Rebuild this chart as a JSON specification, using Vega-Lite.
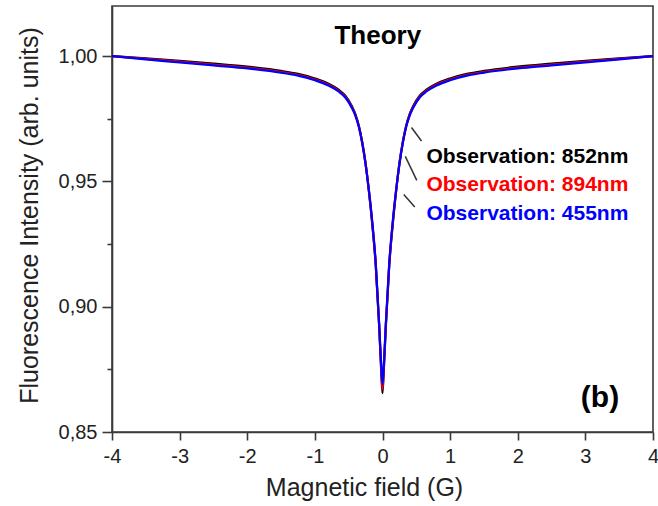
{
  "$schema": "https://vega.github.io/schema/vega-lite/v6.json",
  "width": 541,
  "height": 426,
  "autosize": "none",
  "padding": {"left": 112, "top": 6, "right": 5, "bottom": 74},
  "background": "white",
  "config": {
    "view": {"stroke": "#3a3a3a", "strokeWidth": 1.6},
    "font": "Liberation Sans"
  },
  "datasets": {
    "curve": [
      {"x": -4, "k": 1.0, "r": 1.0, "b": 1.0},
      {"x": -3.5, "k": 0.9991, "r": 0.9989, "b": 0.9987},
      {"x": -3, "k": 0.9981, "r": 0.9978, "b": 0.9975},
      {"x": -2.5, "k": 0.997, "r": 0.9966, "b": 0.9963},
      {"x": -2, "k": 0.9958, "r": 0.9954, "b": 0.9951},
      {"x": -1.5, "k": 0.9941, "r": 0.9937, "b": 0.9934},
      {"x": -1.25, "k": 0.9929, "r": 0.9925, "b": 0.9922},
      {"x": -1, "k": 0.9911, "r": 0.9907, "b": 0.9904},
      {"x": -0.8, "k": 0.989, "r": 0.9886, "b": 0.9883},
      {"x": -0.65, "k": 0.9866, "r": 0.9862, "b": 0.9859},
      {"x": -0.55, "k": 0.9842, "r": 0.9838, "b": 0.9835},
      {"x": -0.45, "k": 0.9799, "r": 0.9795, "b": 0.9792},
      {"x": -0.4, "k": 0.9768, "r": 0.9765, "b": 0.9762},
      {"x": -0.35, "k": 0.9722, "r": 0.972, "b": 0.9718},
      {"x": -0.3, "k": 0.9657, "r": 0.9655, "b": 0.9653},
      {"x": -0.25, "k": 0.9572, "r": 0.957, "b": 0.9568},
      {"x": -0.2, "k": 0.9458, "r": 0.946, "b": 0.9462},
      {"x": -0.15, "k": 0.9325, "r": 0.933, "b": 0.9335},
      {"x": -0.1, "k": 0.9165, "r": 0.917, "b": 0.9175},
      {"x": -0.05, "k": 0.8925, "r": 0.893, "b": 0.8935},
      {"x": -0.02, "k": 0.875, "r": 0.876, "b": 0.877},
      {"x": 0, "k": 0.8655, "r": 0.867, "b": 0.869},
      {"x": 0.02, "k": 0.875, "r": 0.876, "b": 0.877},
      {"x": 0.05, "k": 0.8925, "r": 0.893, "b": 0.8935},
      {"x": 0.1, "k": 0.9165, "r": 0.917, "b": 0.9175},
      {"x": 0.15, "k": 0.9325, "r": 0.933, "b": 0.9335},
      {"x": 0.2, "k": 0.9458, "r": 0.946, "b": 0.9462},
      {"x": 0.25, "k": 0.9572, "r": 0.957, "b": 0.9568},
      {"x": 0.3, "k": 0.9657, "r": 0.9655, "b": 0.9653},
      {"x": 0.35, "k": 0.9722, "r": 0.972, "b": 0.9718},
      {"x": 0.4, "k": 0.9768, "r": 0.9765, "b": 0.9762},
      {"x": 0.45, "k": 0.9799, "r": 0.9795, "b": 0.9792},
      {"x": 0.55, "k": 0.9842, "r": 0.9838, "b": 0.9835},
      {"x": 0.65, "k": 0.9866, "r": 0.9862, "b": 0.9859},
      {"x": 0.8, "k": 0.989, "r": 0.9886, "b": 0.9883},
      {"x": 1, "k": 0.9911, "r": 0.9907, "b": 0.9904},
      {"x": 1.25, "k": 0.9929, "r": 0.9925, "b": 0.9922},
      {"x": 1.5, "k": 0.9941, "r": 0.9937, "b": 0.9934},
      {"x": 2, "k": 0.9958, "r": 0.9954, "b": 0.9951},
      {"x": 2.5, "k": 0.997, "r": 0.9966, "b": 0.9963},
      {"x": 3, "k": 0.9981, "r": 0.9978, "b": 0.9975},
      {"x": 3.5, "k": 0.9991, "r": 0.9989, "b": 0.9987},
      {"x": 4, "k": 1.0, "r": 1.0, "b": 1.0}
    ],
    "leaders": [
      {"x1": 0.4285, "x2": 0.5765, "y1": 0.9715, "y2": 0.9661},
      {"x1": 0.337, "x2": 0.5069, "y1": 0.96, "y2": 0.9504},
      {"x1": 0.3145, "x2": 0.4773, "y1": 0.9448, "y2": 0.9398}
    ],
    "labels": [
      {"x": 0.65, "y": 0.9572, "text": "Observation: 852nm", "c": "black"},
      {"x": 0.65, "y": 0.946, "text": "Observation: 894nm", "c": "red"},
      {"x": 0.65, "y": 0.9348, "text": "Observation: 455nm", "c": "blue"}
    ],
    "notes": [
      {"x": -0.07, "y": 1.0048, "text": "Theory", "size": 26},
      {"x": 3.216, "y": 0.8601, "text": "(b)", "size": 30}
    ]
  },
  "layer": [
    {
      "data": {"name": "curve"},
      "transform": [{"fold": ["k", "r", "b"], "as": ["series", "value"]}],
      "mark": {"type": "line", "strokeWidth": 2.2, "clip": true, "interpolate": "monotone"},
      "encoding": {
        "x": {
          "field": "x", "type": "quantitative",
          "scale": {"domain": [-4, 4], "nice": false, "zero": false},
          "axis": {
            "title": "Magnetic field (G)",
            "values": [-4, -3.5, -3, -2.5, -2, -1.5, -1, -0.5, 0, 0.5, 1, 1.5, 2, 2.5, 3, 3.5, 4],
            "labelExpr": "datum.value % 1 == 0 ? (datum.value < 0 ? '-' + abs(datum.value) : '' + datum.value) : ''",
            "grid": false,
            "domainColor": "#3a3a3a", "domainWidth": 1.6,
            "tickColor": "#3a3a3a", "tickWidth": 1.6,
            "tickSize": {"condition": {"test": "datum.value % 1 == 0", "value": 8}, "value": 4},
            "labelFont": "Liberation Sans", "labelFontSize": 20, "labelColor": "#222",
            "labelPadding": 6, "labelFlush": false, "labelOverlap": false,
            "titleFont": "Liberation Sans", "titleFontSize": 25, "titleFontWeight": "normal", "titleColor": "#222",
            "titleX": 252, "titleY": 63, "titleBaseline": "alphabetic", "titleAlign": "center"
          }
        },
        "y": {
          "field": "value", "type": "quantitative",
          "scale": {"domain": [0.85, 1.02], "nice": false, "zero": false},
          "axis": {
            "title": "Fluorescence Intensity (arb. units)",
            "values": [0.85, 0.875, 0.9, 0.925, 0.95, 0.975, 1.0],
            "labelExpr": "abs(datum.value*20 - round(datum.value*20)) < 0.001 ? replace(format(datum.value, '.2f'), '.', ',') : ''",
            "grid": false,
            "domainColor": "#3a3a3a", "domainWidth": 1.6,
            "tickColor": "#3a3a3a", "tickWidth": 1.6,
            "tickSize": {"condition": {"test": "abs(datum.value*20 - round(datum.value*20)) < 0.001", "value": 10}, "value": 5},
            "labelFont": "Liberation Sans", "labelFontSize": 20, "labelColor": "#222",
            "labelPadding": 5, "labelOverlap": false, "labelFlush": false,
            "titleFont": "Liberation Sans", "titleFontSize": 25, "titleFontWeight": "normal", "titleColor": "#222",
            "titleX": -75, "titleY": 209, "titleBaseline": "alphabetic", "titleAlign": "center", "titleAngle": -90
          }
        },
        "color": {
          "field": "series", "type": "nominal",
          "scale": {"domain": ["k", "r", "b"], "range": ["#000000", "#ff0000", "#0000ff"]},
          "legend": null
        }
      }
    },
    {
      "data": {"name": "leaders"},
      "mark": {"type": "rule", "color": "#333333", "strokeWidth": 1.5},
      "encoding": {
        "x": {"field": "x1", "type": "quantitative"},
        "x2": {"field": "x2"},
        "y": {"field": "y1", "type": "quantitative"},
        "y2": {"field": "y2"}
      }
    },
    {
      "data": {"name": "labels"},
      "mark": {"type": "text", "align": "left", "baseline": "alphabetic", "fontWeight": "bold", "fontSize": 21, "font": "Liberation Sans"},
      "encoding": {
        "x": {"field": "x", "type": "quantitative"},
        "y": {"field": "y", "type": "quantitative"},
        "text": {"field": "text"},
        "color": {"field": "c", "type": "nominal", "scale": null}
      }
    },
    {
      "data": {"name": "notes"},
      "mark": {"type": "text", "align": "center", "baseline": "alphabetic", "fontWeight": "bold", "font": "Liberation Sans", "color": "black"},
      "encoding": {
        "x": {"field": "x", "type": "quantitative"},
        "y": {"field": "y", "type": "quantitative"},
        "text": {"field": "text"},
        "size": {"field": "size", "type": "quantitative", "scale": null}
      }
    }
  ]
}
